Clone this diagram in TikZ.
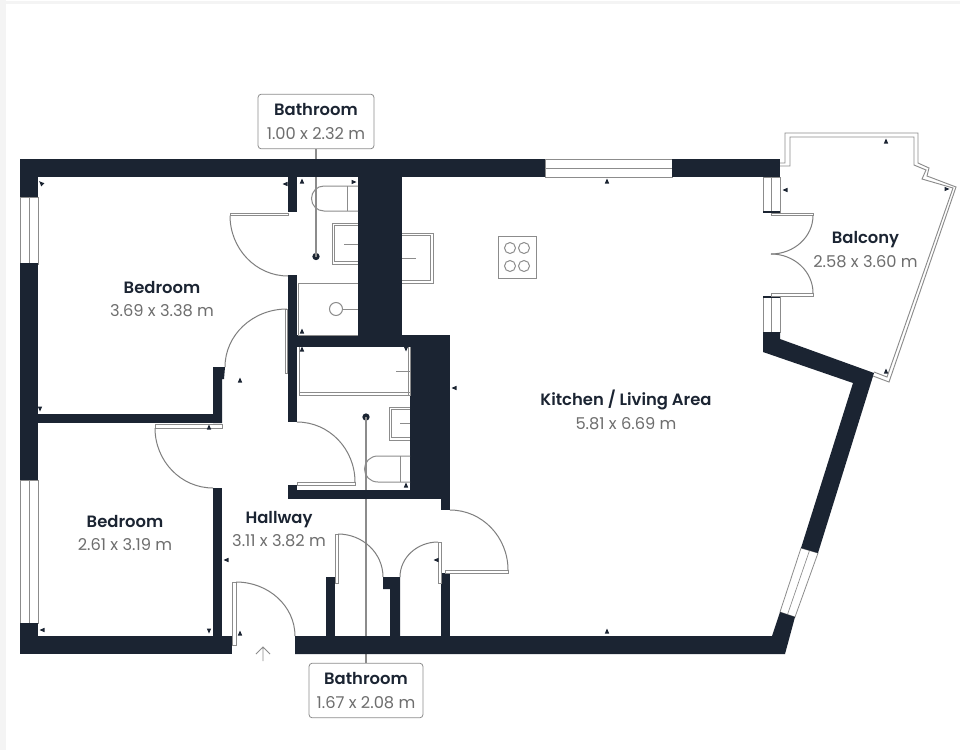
\documentclass[tikz,border=0pt]{standalone}
\usepackage{fontspec}
\setmainfont{Poppins}
\newfontfamily\semib{Poppins SemiBold}
\definecolor{wallc}{HTML}{1B2432}
\definecolor{linec}{HTML}{8C8C8C}
\definecolor{dimc}{HTML}{6E6E6E}
\definecolor{edgec}{HTML}{F4F4F4}
\tikzset{
  wall/.style={fill=wallc,draw=none},
  thin line/.style={draw=linec,line width=0.5pt},
  fixture/.style={draw=linec,line width=0.75pt,fill=white},
  leaf/.style={draw=linec,line width=0.6pt,fill=white},
  winframe/.style={draw=linec,line width=0.6pt,fill=white},
  arcline/.style={draw=linec!90!black,line width=0.75pt},
  tag/.style={draw=linec,line width=0.6pt,rounded corners=2.5pt,fill=white,inner sep=0pt},
  room/.style={align=center,inner sep=0pt,text=wallc,font=\fontsize{12}{17.6}\selectfont},
  dotp/.style={circle,fill=wallc,inner sep=0pt,minimum size=5.5pt},
  tip/.style={fill=wallc,draw=none}
}
\newcommand{\rlabel}[2]{{\fontsize{12.3}{17.6}\selectfont\semib #1}\\{\fontsize{12.2}{17.6}\selectfont\color{dimc}#2}}
\newcommand{\tickmark}[3]{\fill[tip,shift={(#1,#2)},rotate=#3] (-2.2,2.5) -- (0,-2.5) -- (2.2,2.5) -- cycle;}
\newcommand{\qarc}[4]{\pgfmathsetmacro\cxa{#1+0.5523*(#3-#1)}\pgfmathsetmacro\cyb{#4-0.5523*(#4-#2)}\draw[arcline] (#1,#2) .. controls (\cxa,#2) and (#3,\cyb) .. (#3,#4);}
\begin{document}
\begin{tikzpicture}[x=0.75pt,y=-0.75pt]
\useasboundingbox (0,0) rectangle (960,750);
\fill[white] (0,0) rectangle (960,750);
\fill[edgec] (0,0) rectangle (6,750);
\fill[edgec] (6,1) rectangle (960,3.5);
% callouts (under the walls)
\node[dotp] (d1) at (316,256.5) {};
\node[dotp] (d2) at (366,417) {};
\node[tag,minimum width=87pt,minimum height=41pt] (b1) at (316,121.5) {};
\node[tag,minimum width=85.5pt,minimum height=41pt] (b2) at (366,690.5) {};
\draw[linec,line width=0.8pt] (b1.south) -- (d1.center);
\draw[linec,line width=0.8pt] (b2.north) -- (d2.center);
% windows
\draw[winframe] (20,197) rectangle (38,264); \draw[thin line] (29,197)--(29,264);
\draw[winframe] (20,480) rectangle (38,623); \draw[thin line] (29,480)--(29,623);
\draw[winframe] (545,159) rectangle (672,177); \draw[thin line] (545,168)--(672,168);
\draw[winframe] (763,177) rectangle (780,212); \draw[thin line] (771.5,177)--(771.5,212);
\draw[winframe] (763,297) rectangle (780,332); \draw[thin line] (771.5,297)--(771.5,332);
\draw[winframe] (780,612)--(801,548)--(818,553)--(795,617)--cycle; \draw[thin line] (787.5,614.5)--(809.5,550.5);
\draw[wallc,line width=1pt] (763,212)--(780,212) (763,297)--(780,297);
% walls
\fill[wall] (20,159) rectangle (545,177);
\fill[wall] (672,159) rectangle (780,177);
\fill[wall] (20,159) rectangle (38,197);
\fill[wall] (20,263) rectangle (38,480);
\fill[wall] (20,623) rectangle (38,654);
\fill[wall] (20,636) rectangle (232,654);
\fill[wall] (38,414) rectangle (222,423);
\fill[wall] (213,367) -- (225,367) -- (224,379) -- (222,379) -- (222,423) -- (213,423) -- cycle;
\fill[wall] (213,488) rectangle (222,637);
\fill[wall] (288,177) rectangle (297,212);
\fill[wall] (288,275) rectangle (297,422);
\fill[wall] (358,177) rectangle (402,347);
\fill[wall] (288,335) rectangle (450,347);
\fill[wall] (410,336) rectangle (450,499);
\fill[wall] (402,336) rectangle (450,347);
\fill[wall] (288,490) rectangle (450,499);
\fill[wall] (288,485) rectangle (297,499);
\fill[wall] (441,499) rectangle (450,510);
\fill[wall] (326,577) rectangle (335,637);
\fill[wall] (383,577) -- (400,577) -- (400,637) -- (390,637) -- (390,589) -- (383,589) -- cycle;
\fill[wall] (441,573) rectangle (450,637);
\fill[wall] (295,636) -- (772,636) -- (780,612) -- (795,617) -- (785,654) -- (295,654) -- cycle;
\fill[wall] (763,332) -- (780,332) -- (780,339) -- (874,373) -- (818,553) -- (801,548) -- (853,383) -- (763,352) -- cycle;
% balcony
\draw[thin line,line width=0.7pt] (780,163)--(785,163)--(785,133)--(918,133)--(918,163)--(929,168)--(927,176)--(956,187)--(889,382)--(873,376);
\draw[thin line,line width=0.7pt] (780,166)--(790,166)--(790,137)--(914,137)--(914,165)--(926,170)--(922,179)--(953,188)--(887,377)--(874,372);
% doors
\draw[leaf] (230,213) rectangle (288,215.5);
\qarc{288}{276}{230}{215.5}
\draw[leaf] (285.5,309) rectangle (287.5,373);
\qarc{287}{309}{225}{367}
\draw[leaf] (155,424.5) rectangle (222,428);
\qarc{213}{488}{155}{428}
\draw[leaf] (297,482) rectangle (355,485);
\qarc{297}{422}{355}{482}
\draw[leaf] (232.5,582) rectangle (236,645);
\qarc{236}{582}{295}{636}
\draw[leaf] (335,534) rectangle (338,583);
\qarc{338}{534}{383}{577}
\draw[leaf] (438,542) rectangle (441,583);
\qarc{438}{542}{400}{577}
\draw[leaf] (445,570) rectangle (508,573);
\qarc{450}{510}{508}{570}
\draw[leaf] (771,213) rectangle (813,215.5);
\qarc{771}{254}{813}{215.5}
\draw[leaf] (771,293) rectangle (813,296);
\qarc{771}{254}{813}{293}
% bathroom 1 fixtures
\draw[fixture,fill=none] (358,186) -- (324,186) .. controls (317,186) and (311.5,191.6) .. (311.5,198.5) .. controls (311.5,205.4) and (317,211) .. (324,211) -- (358,211);
\draw[thin line,line width=0.7pt] (347,186)--(347,211);
\draw[fixture] (358,223) -- (332,223) -- (332,264) -- (358,264);
\draw[fixture] (358,225.5) -- (334.5,225.5) -- (334.5,261.5) -- (358,261.5);
\draw[thin line] (344,244)--(358,244);
\draw[fixture,fill=none] (298,283) -- (358,283) (298,283) -- (298,335) -- (358,335);
\draw[fixture] (336,309) circle[radius=6.5];
\draw[thin line] (342.5,309)--(358,309);
% kitchen fixtures
\draw[fixture] (402,233) -- (433,233) -- (433,283) -- (402,283);
\draw[fixture] (402,235.5) -- (430.5,235.5) -- (430.5,280.5) -- (402,280.5);
\draw[thin line] (402,258)--(416,258);
\draw[fixture] (498,236) rectangle (536,278);
\foreach \cx/\cy in {510/248,524/248,510/266,524/266} \draw[fixture] (\cx,\cy) circle[radius=5.5];
% bathroom 2 fixtures
\draw[fixture,fill=none] (299,347) -- (299,395) -- (410,395) -- (410,347);
\draw[fixture,fill=none] (299,392.5) -- (410,392.5) (408.5,347)--(408.5,395);
\draw[thin line] (396,371)--(410,371);
\draw[fixture] (410,407) -- (389,407) -- (389,440) -- (410,440);
\draw[fixture] (410,409.5) -- (391.5,409.5) -- (391.5,437.5) -- (410,437.5);
\draw[thin line] (400,423)--(410,423);
\draw[fixture,fill=none] (410,456) -- (378,456) .. controls (370,456) and (364.5,462) .. (364.5,469) .. controls (364.5,476) and (370,482) .. (378,482) -- (410,482);
\draw[thin line,line width=0.7pt] (400,456)--(400,482);
% small dimension marks
\tickmark{41}{183}{45}
\tickmark{40}{409}{180}
\tickmark{285}{184}{90}
\tickmark{302}{181}{0}
\tickmark{354}{182}{-90}
\tickmark{302}{331}{0}
\tickmark{302}{349}{0}
\tickmark{406}{349}{180}
\tickmark{406}{485}{0}
\tickmark{607}{181}{0}
\tickmark{454}{388}{90}
\tickmark{240}{380}{0}
\tickmark{209}{427}{0}
\tickmark{226}{560}{90}
\tickmark{240}{633}{0}
\tickmark{42}{630}{90}
\tickmark{209}{631}{180}
\tickmark{607}{631}{0}
\tickmark{436}{560}{90}
\tickmark{785}{190}{90}
\tickmark{886}{141}{0}
\tickmark{947}{189}{-90}
\tickmark{886}{371}{0}
% entry arrow
\draw[linec,line width=0.7pt] (263,661)--(263,647) (256,654)--(263,647)--(270,654);
% labels
\node[room] (bed1) at (162,299) {\rlabel{Bedroom}{3.69 x 3.38 m}};
\node[room] (bed2) at (125,533) {\rlabel{Bedroom}{2.61 x 3.19 m}};
\node[room] (hall) at (279,529) {\rlabel{Hallway}{3.11 x 3.82 m}};
\node[room] (kitchen) at (626,410) {\rlabel{Kitchen / Living Area}{5.81 x 6.69 m}};
\node[room] (balc) at (865.5,249.5) {\rlabel{Balcony}{2.58 x 3.60 m}};
\node[room] (lb1) at (b1.center) {\rlabel{Bathroom}{1.00 x 2.32 m}};
\node[room] (lb2) at (b2.center) {\rlabel{Bathroom}{1.67 x 2.08 m}};
\end{tikzpicture}
\end{document}
